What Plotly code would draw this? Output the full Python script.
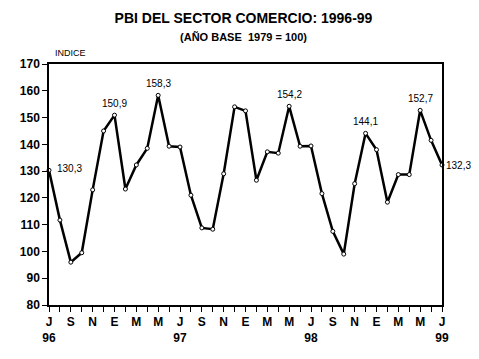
import plotly.graph_objects as go

months = ["J", "A", "S", "O", "N", "D", "E", "F", "M", "A", "M", "J"] * 3 + ["J"]
years = {0: "96", 12: "97", 24: "98", 36: "99"}
values = [130.3, 111.7, 96.0, 99.5, 123.0, 145.0, 150.9, 123.3, 132.3, 138.5,
          158.3, 139.3, 139.0, 121.0, 108.8, 108.3, 129.0, 154.0, 152.5, 126.6,
          137.2, 136.7, 154.2, 139.3, 139.4, 121.6, 107.5, 99.0, 125.3, 144.1,
          138.0, 118.4, 128.7, 128.7, 152.7, 141.5, 132.3]
labeled = {0: "130,3", 6: "150,9", 10: "158,3", 22: "154,2", 29: "144,1", 34: "152,7", 36: "132,3"}

x = list(range(len(values)))
ticktext = []
for i in x:
    if i % 2 == 0:
        t = months[i]
        if i in years:
            t += "<br>" + years[i]
        ticktext.append(t)
    else:
        ticktext.append("")

FONT = "Liberation Sans, Arial"

fig = go.Figure()
fig.add_trace(go.Scatter(
    x=x, y=values, mode="lines+markers",
    line=dict(color="black", width=2.5),
    marker=dict(size=4, color="white", line=dict(color="black", width=1)),
    cliponaxis=False, showlegend=False,
))

last = len(values) - 1
for i, t in labeled.items():
    if i == 0:
        fig.add_annotation(x=i, y=values[i], text=t, showarrow=False,
                           xanchor="left", xshift=6, yshift=2,
                           font=dict(family=FONT, size=10, color="black"))
    elif i == last:
        fig.add_annotation(x=i, y=values[i], text=t, showarrow=False,
                           xanchor="left", xshift=2, yshift=-1,
                           font=dict(family=FONT, size=10, color="black"))
    else:
        fig.add_annotation(x=i, y=values[i], text=t, showarrow=False,
                           yanchor="bottom", yshift=4,
                           font=dict(family=FONT, size=10, color="black"))

fig.add_annotation(xref="paper", yref="paper", x=0.0, xshift=4, y=1.0, yshift=4, text="INDICE",
                   showarrow=False, xanchor="left", yanchor="bottom",
                   font=dict(family=FONT, size=9, color="black"))

fig.update_layout(
    width=471, height=351,
    margin=dict(l=36, r=37, t=56, b=54),
    paper_bgcolor="white", plot_bgcolor="white",
    font=dict(family=FONT, color="black"),
    title=dict(
        text="<b>PBI DEL SECTOR COMERCIO: 1996-99</b><br><span style='font-size:11px'><b>(AÑO BASE  1979 = 100)</b></span>",
        x=0.5, xanchor="center", y=0.958, yanchor="top",
        font=dict(family=FONT, size=14, color="black"),
    ),
    xaxis=dict(
        range=[0, 36], tickmode="array", tickvals=x, ticktext=ticktext,
        ticks="outside", ticklen=5, tickcolor="black", tickwidth=1,
        showline=True, linecolor="black", linewidth=1.5, mirror=True,
        showgrid=False, zeroline=False,
        tickfont=dict(family=FONT, size=12, color="black", weight="bold"),
    ),
    yaxis=dict(
        range=[80, 170], dtick=10, tick0=80,
        ticks="outside", ticklen=5, tickcolor="black", tickwidth=1,
        showline=True, linecolor="black", linewidth=1.5, mirror=True,
        showgrid=False, zeroline=False,
        tickfont=dict(family=FONT, size=12, color="black", weight="bold"),
    ),
)

fig.write_html("out.html")
